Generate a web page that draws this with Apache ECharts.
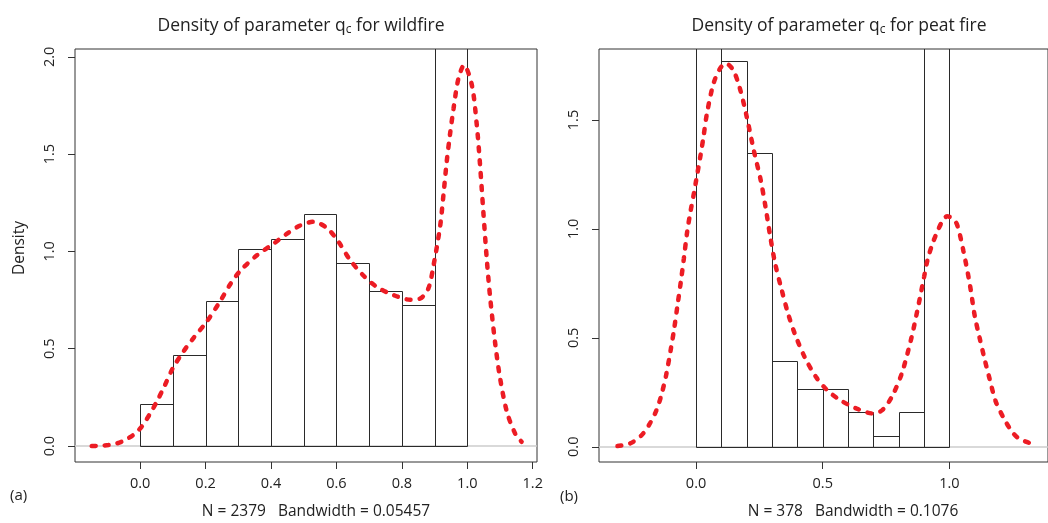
<!DOCTYPE html>
<html><head><meta charset="utf-8">
<script src="https://cdn.jsdelivr.net/npm/echarts@6/dist/echarts.min.js"></script>
<style>html,body{margin:0;padding:0;background:#fff}#c{width:1048px;height:523px}</style>
</head><body><div id="c"></div>
<script>
// ---- data ----
const binStarts = [0.0, 0.1, 0.2, 0.3, 0.4, 0.5, 0.6, 0.7, 0.8, 0.9];
const binWidth = 0.1;
const wildHist = [0.214, 0.466, 0.743, 1.012, 1.062, 1.193, 0.938, 0.795, 0.723, 2.854];
const peatHist = [2.86, 1.772, 1.348, 0.395, 0.263, 0.263, 0.158, 0.051, 0.158, 2.72];

const wildCurveX = [-0.148, -0.12, -0.097, -0.07, -0.051, -0.02, 0.005, 0.03, 0.05, 0.075, 0.1, 0.13, 0.163, 0.204, 0.245, 0.275, 0.306, 0.357, 0.408, 0.448, 0.489, 0.53, 0.571, 0.606, 0.642, 0.683, 0.723, 0.774, 0.825, 0.856, 0.881, 0.897, 0.917, 0.927, 0.937, 0.947, 0.958, 0.973, 0.99, 1.014, 1.029, 1.039, 1.049, 1.06, 1.07, 1.085, 1.1, 1.121, 1.146, 1.166];
const wildCurveY = [0.0, 0.002, 0.005, 0.014, 0.026, 0.058, 0.1, 0.165, 0.225, 0.31, 0.40, 0.48, 0.555, 0.64, 0.745, 0.83, 0.9, 0.98, 1.04, 1.09, 1.133, 1.152, 1.12, 1.05, 0.955, 0.875, 0.818, 0.776, 0.752, 0.758, 0.81, 0.93, 1.13, 1.289, 1.46, 1.6, 1.735, 1.889, 1.957, 1.854, 1.649, 1.443, 1.203, 0.95, 0.76, 0.53, 0.35, 0.176, 0.065, 0.022];

const peatCurveX = [-0.31, -0.259, -0.214, -0.182, -0.156, -0.137, -0.118, -0.099, -0.086, -0.073, -0.06, -0.048, -0.035, -0.022, -0.009, 0.0, 0.018, 0.029, 0.043, 0.069, 0.095, 0.118, 0.146, 0.171, 0.197, 0.228, 0.255, 0.274, 0.293, 0.312, 0.338, 0.363, 0.389, 0.428, 0.473, 0.517, 0.569, 0.632, 0.697, 0.735, 0.773, 0.812, 0.85, 0.876, 0.9, 0.914, 0.934, 0.953, 0.972, 0.991, 1.01, 1.03, 1.055, 1.081, 1.1, 1.119, 1.138, 1.158, 1.183, 1.215, 1.247, 1.273, 1.318, 1.323];
const peatCurveY = [0.003, 0.016, 0.054, 0.107, 0.168, 0.237, 0.329, 0.452, 0.544, 0.651, 0.758, 0.865, 0.987, 1.079, 1.16, 1.22, 1.34, 1.42, 1.53, 1.668, 1.737, 1.76, 1.73, 1.653, 1.531, 1.36, 1.225, 1.102, 0.964, 0.842, 0.72, 0.612, 0.521, 0.413, 0.321, 0.26, 0.214, 0.176, 0.153, 0.168, 0.23, 0.337, 0.50, 0.64, 0.78, 0.86, 0.935, 0.99, 1.035, 1.058, 1.05, 1.02, 0.9, 0.742, 0.6, 0.5, 0.406, 0.314, 0.207, 0.13, 0.069, 0.039, 0.016, 0.014];

const wildXTicks = [0.0, 0.2, 0.4, 0.6, 0.8, 1.0, 1.2];
const wildYTicks = [0.0, 0.5, 1.0, 1.5, 2.0];
const peatXTicks = [0.0, 0.5, 1.0];
const peatYTicks = [0.0, 0.5, 1.0, 1.5];

const wildTitle = 'Density of parameter q{sub|c} for wildfire';
const peatTitle = 'Density of parameter q{sub|c} for peat fire';
const wildSub = 'N = 2379   Bandwidth = 0.05457';
const peatSub = 'N = 378   Bandwidth = 0.1076';

// ---- styling ----
const FONT = 'Open Sans';
const TXT = '#222';
const chart = echarts.init(document.getElementById('c'), null, {renderer: 'canvas'});

function xAx(gi, min, max, ticks) {
  return {
    type: 'value', gridIndex: gi, min: min, max: max, position: 'bottom',
    axisLine: {show: false, onZero: false}, splitLine: {show: false},
    axisTick: {show: true, customValues: ticks, length: 7, lineStyle: {color: '#333', width: 1}},
    axisLabel: {customValues: ticks, formatter: v => v.toFixed(1), margin: 14,
      fontSize: 14.5, color: TXT, fontFamily: FONT}
  };
}
function yAx(gi, min, max, ticks) {
  return {
    type: 'value', gridIndex: gi, min: min, max: max, position: 'left',
    axisLine: {show: false, onZero: false}, splitLine: {show: false},
    axisTick: {show: true, customValues: ticks, length: 7, lineStyle: {color: '#333', width: 1}},
    axisLabel: {customValues: ticks, formatter: v => v.toFixed(1), margin: 18, rotate: 90,
      fontSize: 14.5, color: TXT, fontFamily: FONT}
  };
}
function hist(gi, vals) {
  return {
    type: 'custom', xAxisIndex: gi, yAxisIndex: gi, clip: true, silent: true,
    data: binStarts.map((s, i) => [s, s + binWidth, vals[i]]),
    encode: {x: [0, 1], y: 2},
    renderItem: function (params, api) {
      const p0 = api.coord([api.value(0), 0]);
      const p1 = api.coord([api.value(1), api.value(2)]);
      const x0 = Math.round(p0[0]) + 0.5, x1 = Math.round(p1[0]) + 0.5;
      const y0 = Math.round(p0[1]) + 0.5, y1 = Math.round(p1[1]) + 0.5;
      return {type: 'rect', shape: {x: x0, y: y1, width: x1 - x0, height: y0 - y1},
        style: {fill: 'none', stroke: '#2a2a2a', lineWidth: 1}};
    }
  };
}
function curve(gi, xs, ys) {
  return {
    type: 'line', xAxisIndex: gi, yAxisIndex: gi, clip: true, silent: true,
    data: xs.map((v, i) => [v, ys[i]]), smooth: 0.3, showSymbol: false, symbol: 'none', z: 5,
    lineStyle: {color: '#ec1c24', width: 4.5, type: [4, 9], cap: 'round'},
    markLine: {silent: true, symbol: 'none', label: {show: false}, z: 1,
      lineStyle: {color: '#cccccc', type: 'solid', width: 1.5}, data: [{yAxis: 0}]}
  };
}
const titleRich = {sub: {fontSize: 12, fontFamily: FONT, color: TXT, padding: [8, 0, 0, 0]}};

chart.setOption({
  animation: false,
  backgroundColor: '#fff',
  grid: [
    {left: 75, top: 49, width: 462, height: 413, show: true, borderColor: '#333', borderWidth: 1, backgroundColor: 'transparent'},
    {left: 599, top: 49, width: 461, height: 413, show: true, borderColor: '#333', borderWidth: 1, backgroundColor: 'transparent'}
  ],
  xAxis: [xAx(0, -0.199, 1.213, wildXTicks), xAx(1, -0.383, 1.389, peatXTicks)],
  yAxis: [yAx(0, -0.082, 2.04, wildYTicks), yAx(1, -0.070, 1.826, peatYTicks)],
  title: [
    {text: wildTitle, left: 296, top: 11, textAlign: 'center',
      textStyle: {fontSize: 17.5, fontWeight: 'normal', color: TXT, fontFamily: FONT, rich: titleRich}},
    {text: peatTitle, left: 834, top: 11, textAlign: 'center',
      textStyle: {fontSize: 17.5, fontWeight: 'normal', color: TXT, fontFamily: FONT, rich: titleRich}}
  ],
  graphic: [
    {type: 'text', x: 316, y: 512, style: {text: wildSub, textAlign: 'center', textVerticalAlign: 'middle', fontSize: 15.5, fontFamily: FONT, fill: TXT}},
    {type: 'text', x: 853, y: 512, style: {text: peatSub, textAlign: 'center', textVerticalAlign: 'middle', fontSize: 15.5, fontFamily: FONT, fill: TXT}},
    {type: 'text', x: 10, y: 496, style: {text: '(a)', textAlign: 'left', textVerticalAlign: 'middle', fontSize: 15, fontFamily: FONT, fill: TXT}},
    {type: 'text', x: 560, y: 497, style: {text: '(b)', textAlign: 'left', textVerticalAlign: 'middle', fontSize: 15, fontFamily: FONT, fill: TXT}},
    {type: 'text', x: 20, y: 248, rotation: Math.PI / 2, style: {text: 'Density', textAlign: 'center', textVerticalAlign: 'middle', fontSize: 15.5, fontFamily: FONT, fill: TXT}}
  ],
  series: [hist(0, wildHist), curve(0, wildCurveX, wildCurveY), hist(1, peatHist), curve(1, peatCurveX, peatCurveY)]
});
</script>
</body></html>
